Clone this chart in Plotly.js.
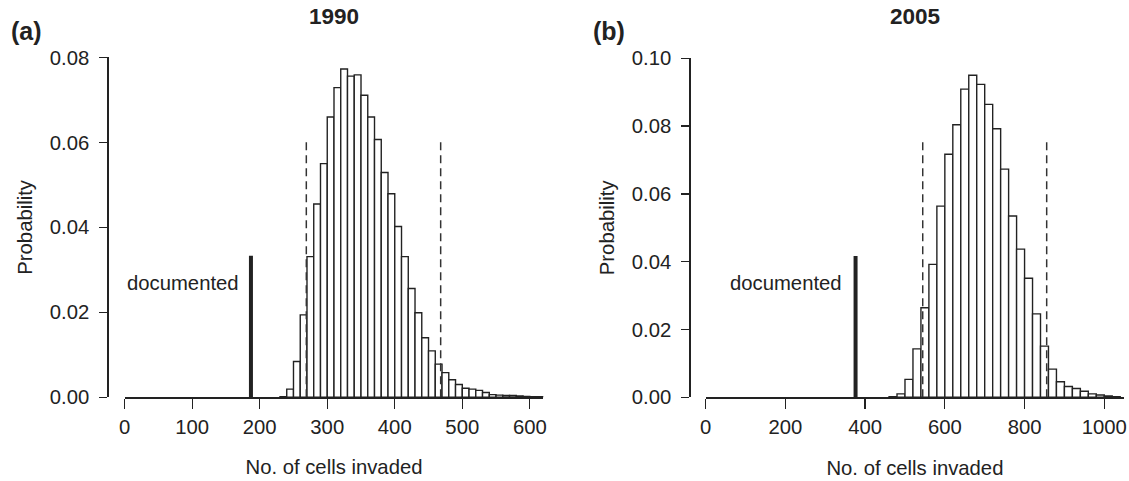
<!DOCTYPE html>
<html>
<head>
<meta charset="utf-8">
<script src="https://cdn.plot.ly/plotly-3.0.1.min.js"></script>
<style>html,body{margin:0;padding:0;background:#fff;}#chart{width:1129px;height:481px;}</style>
</head>
<body>
<div id="chart"></div>
<script>
// Panel (a) 1990: histogram bins (left edges, width 10) and probabilities
const binsA = [230,240,250,260,270,280,290,300,310,320,330,340,350,360,370,380,390,400,410,420,430,440,450,460,470,480,490,500,510,520,530,540,550,560,570,580,590,600,610];
const probA = [0.0001,0.0019,0.0084,0.0194,0.0331,0.0455,0.0550,0.0660,0.0729,0.0773,0.0756,0.0759,0.0711,0.0660,0.0607,0.0529,0.0479,0.0402,0.0331,0.0256,0.0199,0.0140,0.0109,0.0078,0.0058,0.0041,0.0030,0.0021,0.0019,0.0016,0.0011,0.0006,0.0005,0.0004,0.0004,0.0003,0.0002,0.0001,0.0001];
const documentedA = 187;
const documentedProbA = 0.0333;
const intervalA = [269, 468];

// Panel (b) 2005: histogram bins (left edges, width 20) and probabilities
const binsB = [460,480,500,520,540,560,580,600,620,640,660,680,700,720,740,760,780,800,820,840,860,880,900,920,940,960,980,1000,1020];
const probB = [0.0002,0.0010,0.0053,0.0143,0.0264,0.0392,0.0564,0.0717,0.0804,0.0909,0.0950,0.0923,0.0864,0.0792,0.0673,0.0535,0.0437,0.0351,0.0246,0.0151,0.0083,0.0046,0.0032,0.0026,0.0018,0.0010,0.0007,0.0004,0.0002];
const documentedB = 376;
const documentedProbB = 0.0417;
const intervalB = [544.5, 855.5];

const panelTitles = ['1990', '2005'];
const panelLetters = ['(a)', '(b)'];
const xTitle = 'No. of cells invaded';
const yTitle = 'Probability';

const FONT = 'Liberation Sans, Arial, Helvetica, sans-serif';
const INK = '#222';
const DASH_TOP = [0.0601, 0.0754];

function barTrace(bins, probs, w, xa, ya) {
  return {type:'bar', x:bins, y:probs, width:w, offset:0, xaxis:xa, yaxis:ya,
    marker:{color:'#ffffff', line:{color:INK, width:1.4}}, hoverinfo:'x+y', showlegend:false};
}
function vline(x, top, xa, ya, dash, width, color) {
  return {type:'scatter', mode:'lines', x:[x,x], y:[0,top], xaxis:xa, yaxis:ya,
    line:{color:color, width:width, dash:dash}, showlegend:false, hoverinfo:'skip'};
}

const traces = [
  barTrace(binsA, probA, 10, 'x', 'y'),
  vline(documentedA, documentedProbA, 'x', 'y', 'solid', 4, INK),
  vline(intervalA[0], DASH_TOP[0], 'x', 'y', '8px,5px', 1.5, '#333'),
  vline(intervalA[1], DASH_TOP[0], 'x', 'y', '8px,5px', 1.5, '#333'),
  barTrace(binsB, probB, 20, 'x2', 'y2'),
  vline(documentedB, documentedProbB, 'x2', 'y2', 'solid', 4, INK),
  vline(intervalB[0], DASH_TOP[1], 'x2', 'y2', '8px,5px', 1.5, '#333'),
  vline(intervalB[1], DASH_TOP[1], 'x2', 'y2', '8px,5px', 1.5, '#333')
];

const FS = 20.3;
const tickFont = {family:FONT, size:FS, color:INK};
const titleFont = {family:FONT, size:FS, color:INK};

function xAxis(domain, range, dtick, anchor) {
  return {domain:domain, range:range, anchor:anchor, tick0:0, dtick:dtick,
    showline:true, linecolor:INK, linewidth:1.3, ticks:'outside', ticklen:10, tickwidth:1.3, tickcolor:INK,
    ticklabelstandoff:1,
    showgrid:false, zeroline:false, tickfont:tickFont, automargin:false, fixedrange:true,
    title:{text:xTitle, font:titleFont, standoff:23}};
}
function yAxis(domain, range, pos) {
  return {domain:domain, range:range, anchor:'free', position:pos, tick0:0, dtick:0.02, tickformat:'.2f',
    showline:true, linecolor:INK, linewidth:1.3, ticks:'outside', ticklen:8, tickwidth:1.3, tickcolor:INK,
    ticklabelstandoff:6,
    showgrid:false, zeroline:false, tickfont:tickFont, automargin:false, fixedrange:true,
    title:{text:yTitle, font:titleFont, standoff:10}};
}

const layout = {
  width:1129, height:481,
  margin:{l:0, r:0, t:0, b:0},
  paper_bgcolor:'#ffffff', plot_bgcolor:'rgba(0,0,0,0)',
  bargap:0,
  showlegend:false,
  xaxis: xAxis([0.11045, 0.48122], [0, 620], 100, 'y'),
  yaxis: yAxis([0.1742, 0.8805], [0, 0.08], 0.09504),
  xaxis2: xAxis([0.62507, 0.99575], [0, 1050], 200, 'y2'),
  yaxis2: yAxis([0.1740, 0.8788], [0, 0.10], 0.61054),
  annotations: [
    {text:'documented', x:172, y:0.0270, xref:'x', yref:'y', xanchor:'right', yanchor:'middle', showarrow:false, font:{family:FONT, size:FS, color:INK}},
    {text:'documented', x:347, y:0.0338, xref:'x2', yref:'y2', xanchor:'right', yanchor:'middle', showarrow:false, font:{family:FONT, size:FS, color:INK}},
    {text:'<b>'+panelTitles[0]+'</b>', x:0.2958, y:1-17/481, xref:'paper', yref:'paper', xanchor:'center', yanchor:'middle', showarrow:false, font:{family:FONT, size:22.5, color:INK}},
    {text:'<b>'+panelTitles[1]+'</b>', x:0.8104, y:1-17/481, xref:'paper', yref:'paper', xanchor:'center', yanchor:'middle', showarrow:false, font:{family:FONT, size:22.5, color:INK}},
    {text:'<b>'+panelLetters[0]+'</b>', x:9/1129, y:1-31/481, xref:'paper', yref:'paper', xanchor:'left', yanchor:'middle', showarrow:false, font:{family:FONT, size:25, color:INK}},
    {text:'<b>'+panelLetters[1]+'</b>', x:591/1129, y:1-31/481, xref:'paper', yref:'paper', xanchor:'left', yanchor:'middle', showarrow:false, font:{family:FONT, size:25, color:INK}}
  ]
};

Plotly.newPlot('chart', traces, layout, {displayModeBar:false, staticPlot:true});
</script>
</body>
</html>
